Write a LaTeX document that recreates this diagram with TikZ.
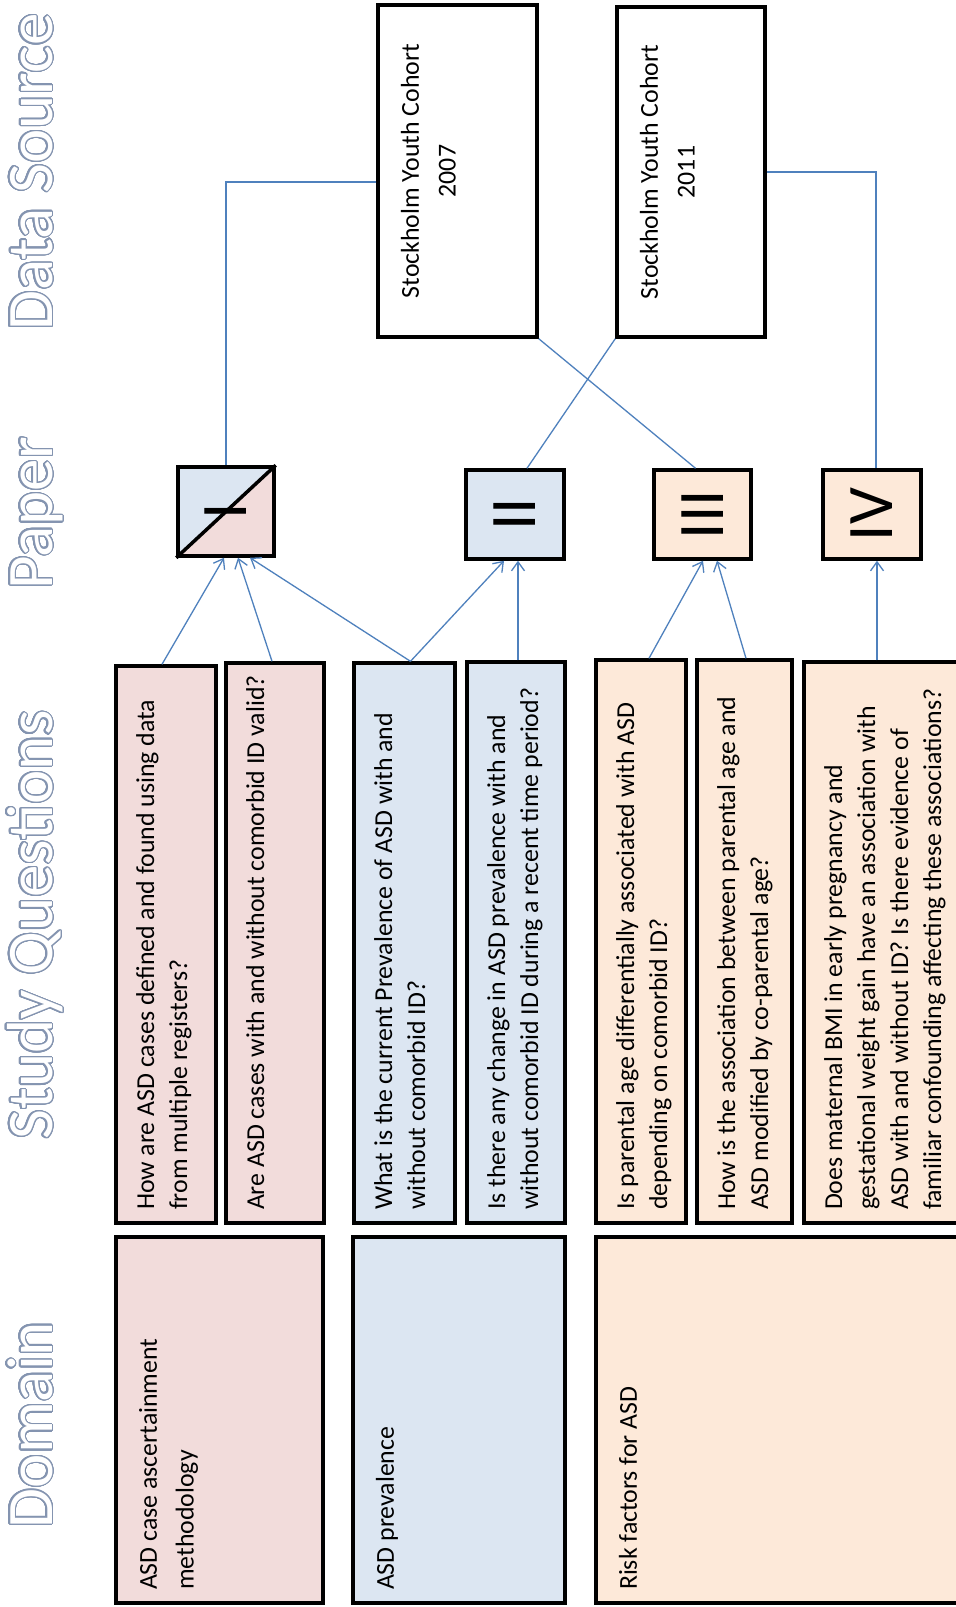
\documentclass[tikz,border=0pt]{standalone}
\usepackage{fontspec}
\setmainfont{Carlito}
\usepackage{graphicx}
\usepackage{contour}
\contourlength{0.7pt}
\contournumber{32}
\usetikzlibrary{arrows.meta,backgrounds,calc,positioning}

\definecolor{qpink}{RGB}{242,220,219}
\definecolor{qblue}{RGB}{220,230,242}
\definecolor{qpeach}{RGB}{253,233,217}
\definecolor{linkblue}{RGB}{79,129,189}
\definecolor{headgrey}{RGB}{132,148,176}

\newcommand\qtxtfont{\fontsize{14.7}{18.8}\selectfont}
\newcommand\dtxtfont{\fontsize{14.7}{21}\selectfont}
\newcommand\numberfont{\fontsize{37}{40}\selectfont}
\newcommand\headingfont{\fontsize{37}{40}\selectfont}
% text of a turned box: length, width, lines
\newcommand\boxtxt[4][l]{\parbox[c][#3][t]{#2}{\if c#1\centering\fi\begin{tabular}[t]{@{}#1@{}}#4\end{tabular}}}

\begin{document}
\begin{tikzpicture}[x=0.02cm, y=-0.02cm,
  qbox/.style={draw=black, line width=0.07cm, rotate=90, inner xsep=0.26cm, inner ysep=0.3cm, font=\qtxtfont},
  dbox/.style={qbox, font=\dtxtfont},
  paper/.style={draw=black, line width=0.07cm, inner sep=0, minimum height=1.78cm, font=\numberfont},
  heading/.style={rotate=90, anchor=base, inner sep=0, font=\headingfont, text=white},
  link/.style={draw=linkblue, line width=0.026cm},
  feeds/.style={link, -{Straight Barb[length=0.18cm, width=0.26cm]}}]
\useasboundingbox (0,0) rectangle (956,1607);
\clip (0,0) rectangle (956,1607);

% column headings
\node[heading] (hsrc) at (52,172) {\contour{headgrey}{Data Source}};
\node[heading] (hpap) at (52,513) {\contour{headgrey}{Paper}};
\node[heading] (hque) at (52,925) {\contour{headgrey}{Study Questions}};
\node[heading] (hdom) at (52,1425) {\contour{headgrey}{Domain}};

% data sources
\node[dbox, fill=white] (s07) at (457.5,171) {\boxtxt[c]{6.12cm}{2.58cm}{Stockholm Youth Cohort\\2007}};
\node[dbox, fill=white] (s11) at (691,172) {\boxtxt[c]{6.08cm}{2.36cm}{Stockholm Youth Cohort\\2011}};

% papers
\node[paper, minimum width=1.92cm] (p1) at (226,511.5) {\rotatebox{90}{I}};
\node[paper, minimum width=1.96cm, fill=qblue] (p2) at (515,514.5) {\rotatebox{90}{II}};
\node[paper, minimum width=1.94cm, fill=qpeach] (p3) at (702.5,514.5) {\rotatebox{90}{III}};
\node[paper, minimum width=1.96cm, fill=qpeach] (p4) at (872,514.5) {\rotatebox{90}{IV}};
\begin{scope}[on background layer]
\fill[white] (0,0) rectangle (956,1607);
\fill[qpink] (p1.south west) rectangle (p1.north east);
\fill[qblue] (p1.south west) -- (p1.north west) -- (p1.north east) -- cycle;
\end{scope}
\draw[line width=0.07cm] (p1.south west) -- (p1.north east);

% study questions
\node[qbox, fill=qpink] (q1) at (166,944.5) {\boxtxt{10.62cm}{1.4cm}{How are ASD cases defined and found using data\\from multiple registers?}};
\node[qbox, fill=qpink] (q2) at (275,943) {\boxtxt{10.68cm}{1.36cm}{Are ASD cases with and without comorbid ID valid?}};
\node[qbox, fill=qblue] (q3) at (404.5,943) {\boxtxt{10.68cm}{1.42cm}{What is the current Prevalence of ASD with and\\without comorbid ID?}};
\node[qbox, fill=qblue] (q4) at (516,942.5) {\boxtxt{10.70cm}{1.36cm}{Is there any change in ASD prevalence with and\\without comorbid ID during a recent time period?}};
\node[qbox, fill=qpeach] (q5) at (641,941.5) {\boxtxt{10.74cm}{1.2cm}{Is parental age differentially associated with ASD\\depending on comorbid ID?}};
\node[qbox, fill=qpeach] (q6) at (744.5,941.5) {\boxtxt{10.74cm}{1.3cm}{How is the association between parental age and\\ASD modified by co-parental age?}};
\node[qbox, fill=qpeach] (q7) at (902,942.5) {\boxtxt{10.70cm}{3.32cm}{Does maternal BMI in early pregnancy and\\gestational weight gain have an association with\\ASD with and without ID? Is there evidence of\\familiar confounding affecting these associations?}};

% domains
\node[dbox, fill=qpink] (d1) at (219.5,1420) {\boxtxt{6.8cm}{3.54cm}{ASD case ascertainment\\methodology}};
\node[dbox, fill=qblue] (d2) at (459,1420) {\boxtxt{6.8cm}{3.64cm}{ASD prevalence}};
\node[dbox, fill=qpeach] (d3) at (798,1420) {\boxtxt{6.8cm}{7.48cm}{Risk factors for ASD}};

% questions to papers
\draw[feeds] ($(q1.east)+(-4,0)$) -- ($(p1.south)+(-2,0)$);
\draw[feeds] ($(q2.east)+(-3,0)$) -- ($(p1.south)+(12,0)$);
\draw[feeds] ($(q3.east)+(6,0)$) -- ($(p1.south)+(24,0)$);
\draw[feeds] ($(q3.east)+(6,0)$) -- ($(p2.south)+(-11,0)$);
\draw[feeds] ($(q4.east)+(2,0)$) -- ($(p2.south)+(3,0)$);
\draw[feeds] ($(q5.east)+(8,0)$) -- ($(p3.south)+(0.5,0)$);
\draw[feeds] ($(q6.east)+(1.5,0)$) -- ($(p3.south)+(14.5,0)$);
\draw[feeds] ($(q7.east)+(-25,0)$) -- ($(p4.south)+(5,0)$);

% sources to papers
\draw[link] ($(s07.north)+(0,11)$) -| (p1.north);
\draw[link] (s11.south) -| ($(p4.north)+(4,0)$);
\draw[link] (s07.south west) -- ($(p3.north)+(-7,0)$);
\draw[link] (s11.north west) -- ($(p2.north)+(12,0)$);
\end{tikzpicture}
\end{document}
